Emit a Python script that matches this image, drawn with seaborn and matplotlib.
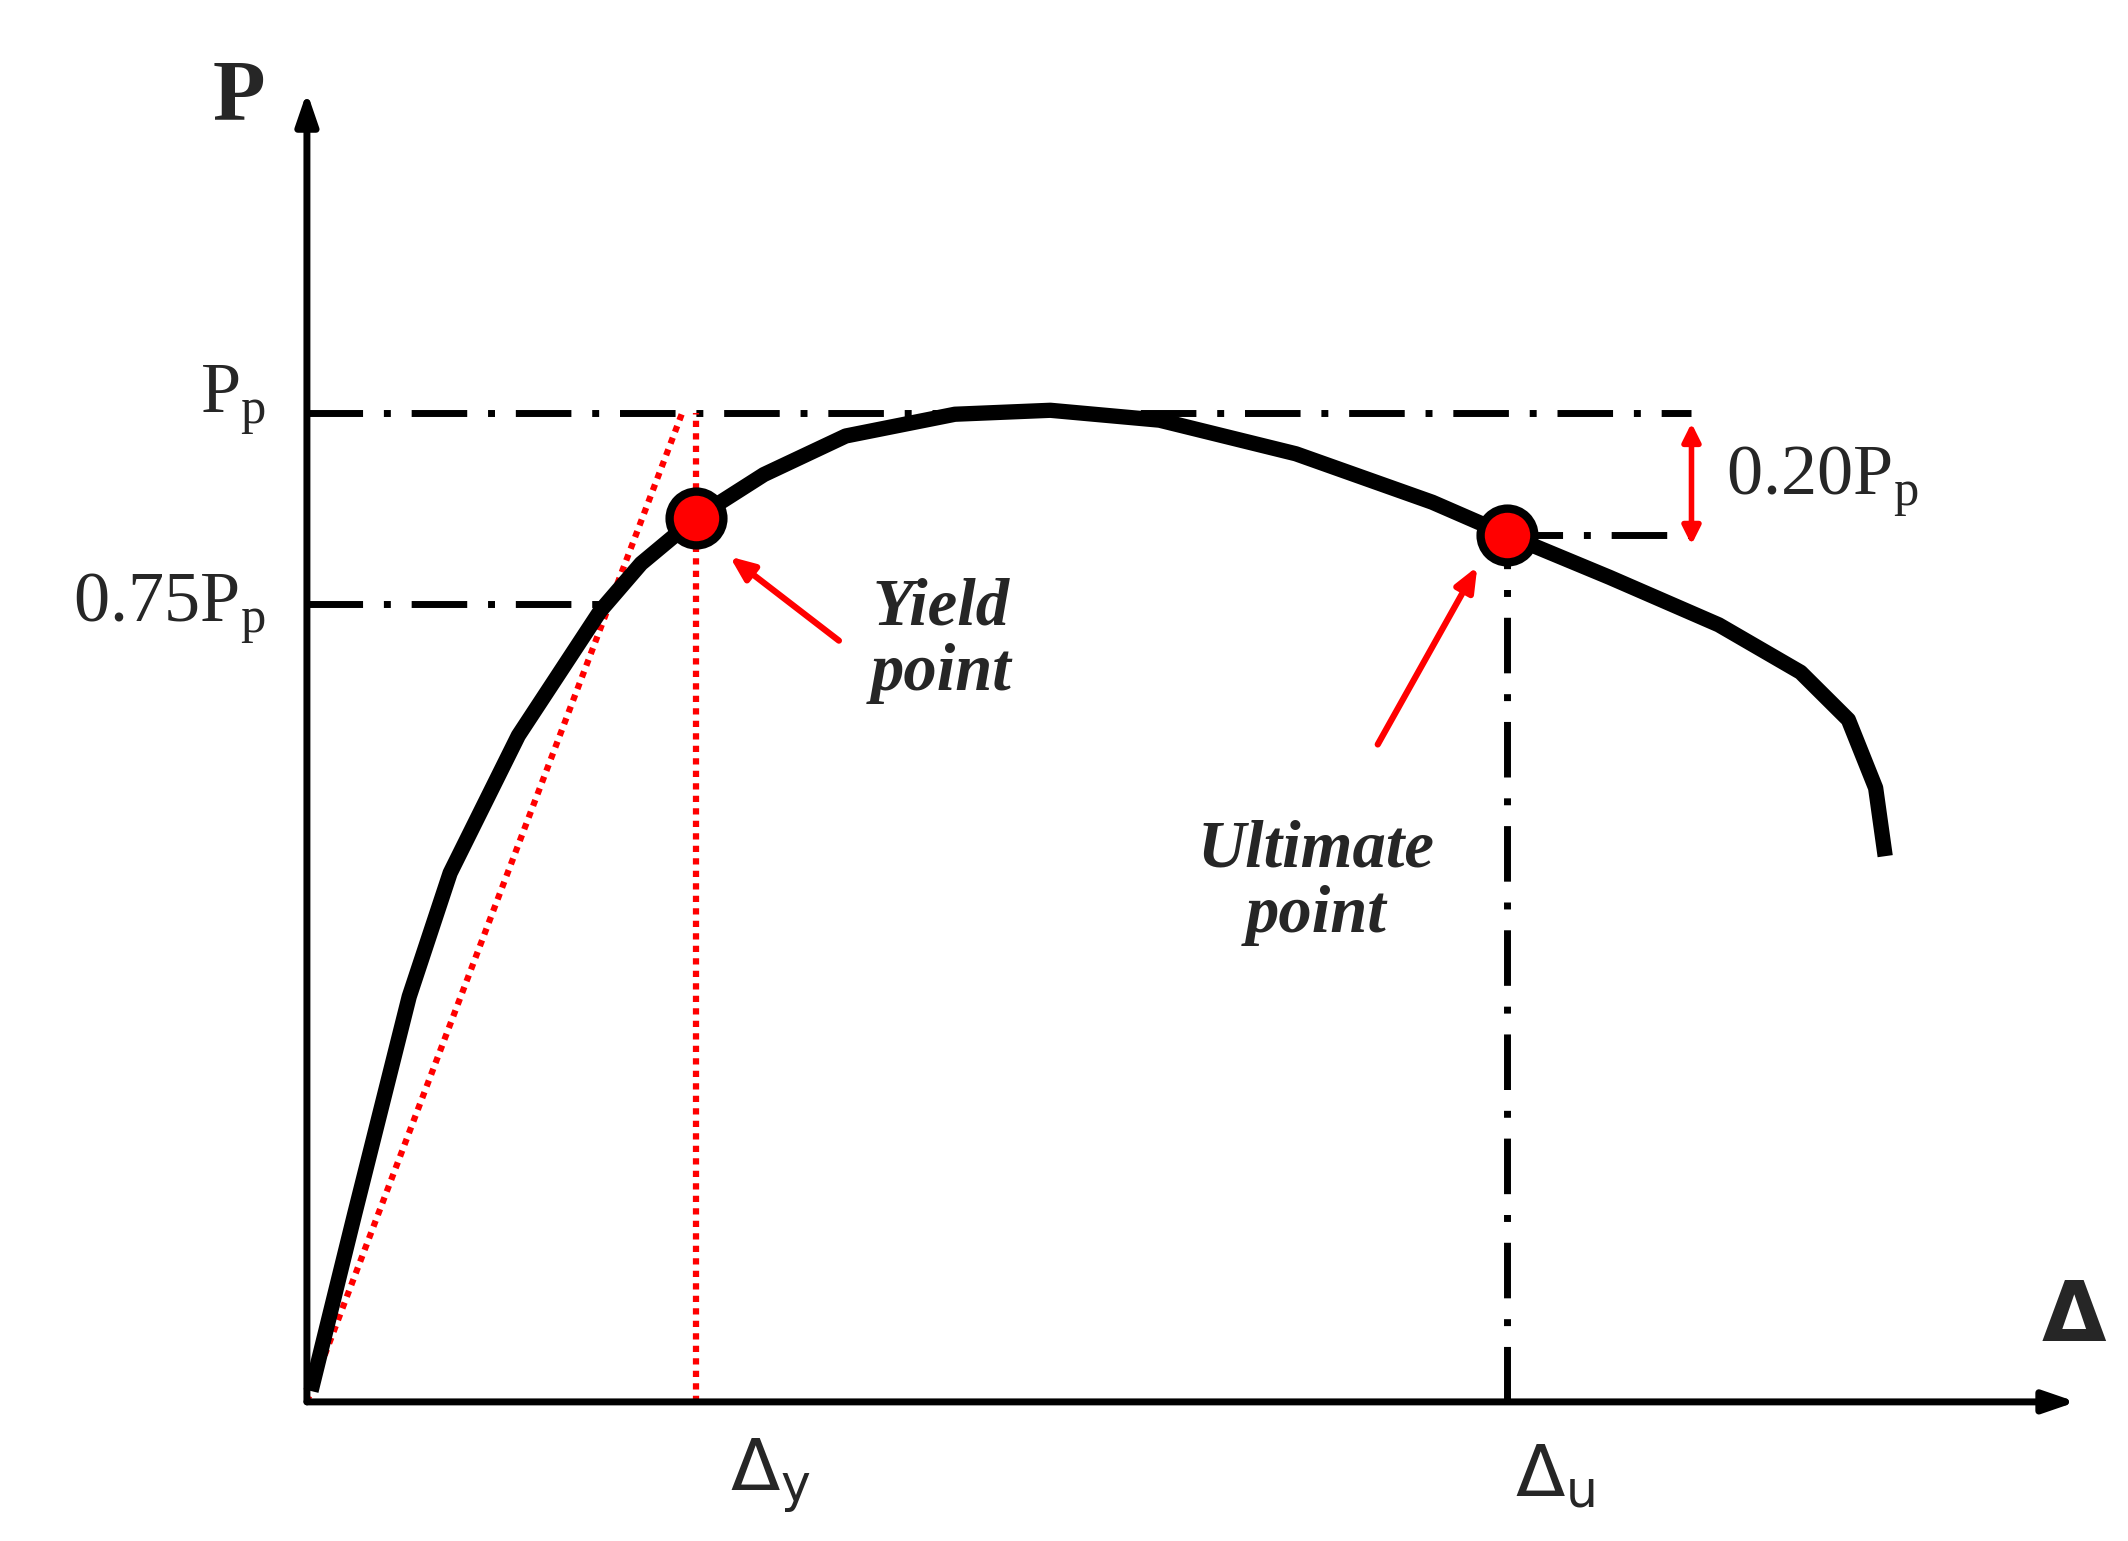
import numpy as np
import pandas as pd
import matplotlib
matplotlib.use("Agg")
import matplotlib.pyplot as plt
import seaborn as sns

# Load-displacement curve (P normalised by Pp)
delta = [0.03, 0.35, 0.75, 1.05, 1.55, 2.15, 2.45, 2.85, 3.35, 3.95, 4.75, 5.45,
         6.25, 7.25, 8.25, 8.8, 9.55, 10.35, 10.95, 11.3, 11.5, 11.57]
load = [0.011, 0.19, 0.41, 0.535, 0.674, 0.80, 0.848, 0.894, 0.938, 0.977, 0.999, 1.003,
        0.993, 0.959, 0.91, 0.877, 0.834, 0.786, 0.738, 0.69, 0.621, 0.552]
yield_pt = (2.85, 0.894)
ult_pt = (8.8, 0.877)
p_peak = 1.0
p_075 = 0.807
secant_end = (2.75, 1.0)

sns.set_theme(style="white")
plt.rcParams['font.family'] = ['Liberation Serif', 'DejaVu Serif']

fig = plt.figure(figsize=(21.28, 15.41), dpi=100)
ax = fig.add_axes([0, 0, 1, 1])
ax.set_xlim(-2.25, 13.35)
ax.set_ylim(-0.1407, 1.418)
ax.axis("off")

dd = (0, (8, 3, 1, 3))
# reference dash-dot lines
ax.plot([0, 10.15], [p_peak, p_peak], color="black", lw=5, ls=dd, zorder=2)
ax.plot([0, 2.15], [p_075, p_075], color="black", lw=5, ls=dd, zorder=2)
ax.plot([ult_pt[0], 10.15], [ult_pt[1], ult_pt[1]], color="black", lw=5, ls=dd, zorder=2)
ax.plot([ult_pt[0], ult_pt[0]], [0, ult_pt[1]], color="black", lw=5, ls=dd, zorder=2)

# red dotted secant and yield vertical
ax.plot([0, secant_end[0]], [0, secant_end[1]], color="red", lw=4.5, ls=(0, (1, 1)), zorder=3)
ax.plot([yield_pt[0], yield_pt[0]], [0, p_peak], color="red", lw=4.5, ls=(0, (1, 1)), zorder=3)

# main curve
df = pd.DataFrame({"d": delta, "p": load})
sns.lineplot(data=df, x="d", y="p", ax=ax, color="black", lw=11, sort=False,
             solid_joinstyle="round", solid_capstyle="butt", zorder=4)

# axes arrows
ax.annotate("", xy=(0, 1.325), xytext=(0, 0),
            arrowprops=dict(arrowstyle="-|>,head_length=1.6,head_width=0.55", lw=5, color="black",
                            shrinkA=0, shrinkB=0), zorder=5)
ax.annotate("", xy=(12.97, 0), xytext=(0, 0),
            arrowprops=dict(arrowstyle="-|>,head_length=1.6,head_width=0.55", lw=5, color="black",
                            shrinkA=0, shrinkB=0), zorder=5)

# points
ax.scatter([yield_pt[0], ult_pt[0]], [yield_pt[1], ult_pt[1]], s=1500, color="red",
           edgecolor="black", linewidth=6, zorder=6)

# 0.20Pp double arrow
ax.annotate("", xy=(10.15, ult_pt[1] - 0.01), xytext=(10.15, p_peak - 0.01),
            arrowprops=dict(arrowstyle="<|-|>,head_length=0.9,head_width=0.45", lw=4, color="red",
                            shrinkA=0, shrinkB=0), zorder=5)

# red annotation arrows
ax.annotate("", xy=(3.1, 0.855), xytext=(3.9, 0.77),
            arrowprops=dict(arrowstyle="-|>,head_length=1.2,head_width=0.5", lw=4.5, color="red",
                            shrinkA=0, shrinkB=0), zorder=5)
ax.annotate("", xy=(8.58, 0.845), xytext=(7.85, 0.665),
            arrowprops=dict(arrowstyle="-|>,head_length=1.2,head_width=0.5", lw=4.5, color="red",
                            shrinkA=0, shrinkB=0), zorder=5)

fs = 52
ax.text(-0.5, 1.318, "P", fontsize=62, fontweight="bold", ha="center", va="center")
ax.text(12.95, 0.085, "Δ", fontsize=60, fontweight="bold", ha="center", va="center",
        family=["DejaVu Sans"])
ax.text(-0.3, p_peak + 0.012, r"P$_\mathregular{p}$", fontsize=fs, ha="right", va="center")
ax.text(-0.3, p_075 - 0.005, r"0.75P$_\mathregular{p}$", fontsize=fs, ha="right", va="center")
ax.text(10.4, 0.93, r"0.20P$_\mathregular{p}$", fontsize=fs, ha="left", va="center")
ax.text(3.4, -0.075, r"Δ$_\mathregular{y}$", fontsize=fs, ha="center", va="center",
        family=["DejaVu Sans"])
ax.text(9.15, -0.075, r"Δ$_\mathregular{u}$", fontsize=fs, ha="center", va="center",
        family=["DejaVu Sans"])
ax.text(4.65, 0.77, "Yield\npoint", fontsize=48, fontweight="bold", fontstyle="italic",
        ha="center", va="center", linespacing=1.1)
ax.text(7.4, 0.525, "Ultimate\npoint", fontsize=48, fontweight="bold", fontstyle="italic",
        ha="center", va="center", linespacing=1.1)

fig.savefig("out.png", dpi=100, facecolor="white")
